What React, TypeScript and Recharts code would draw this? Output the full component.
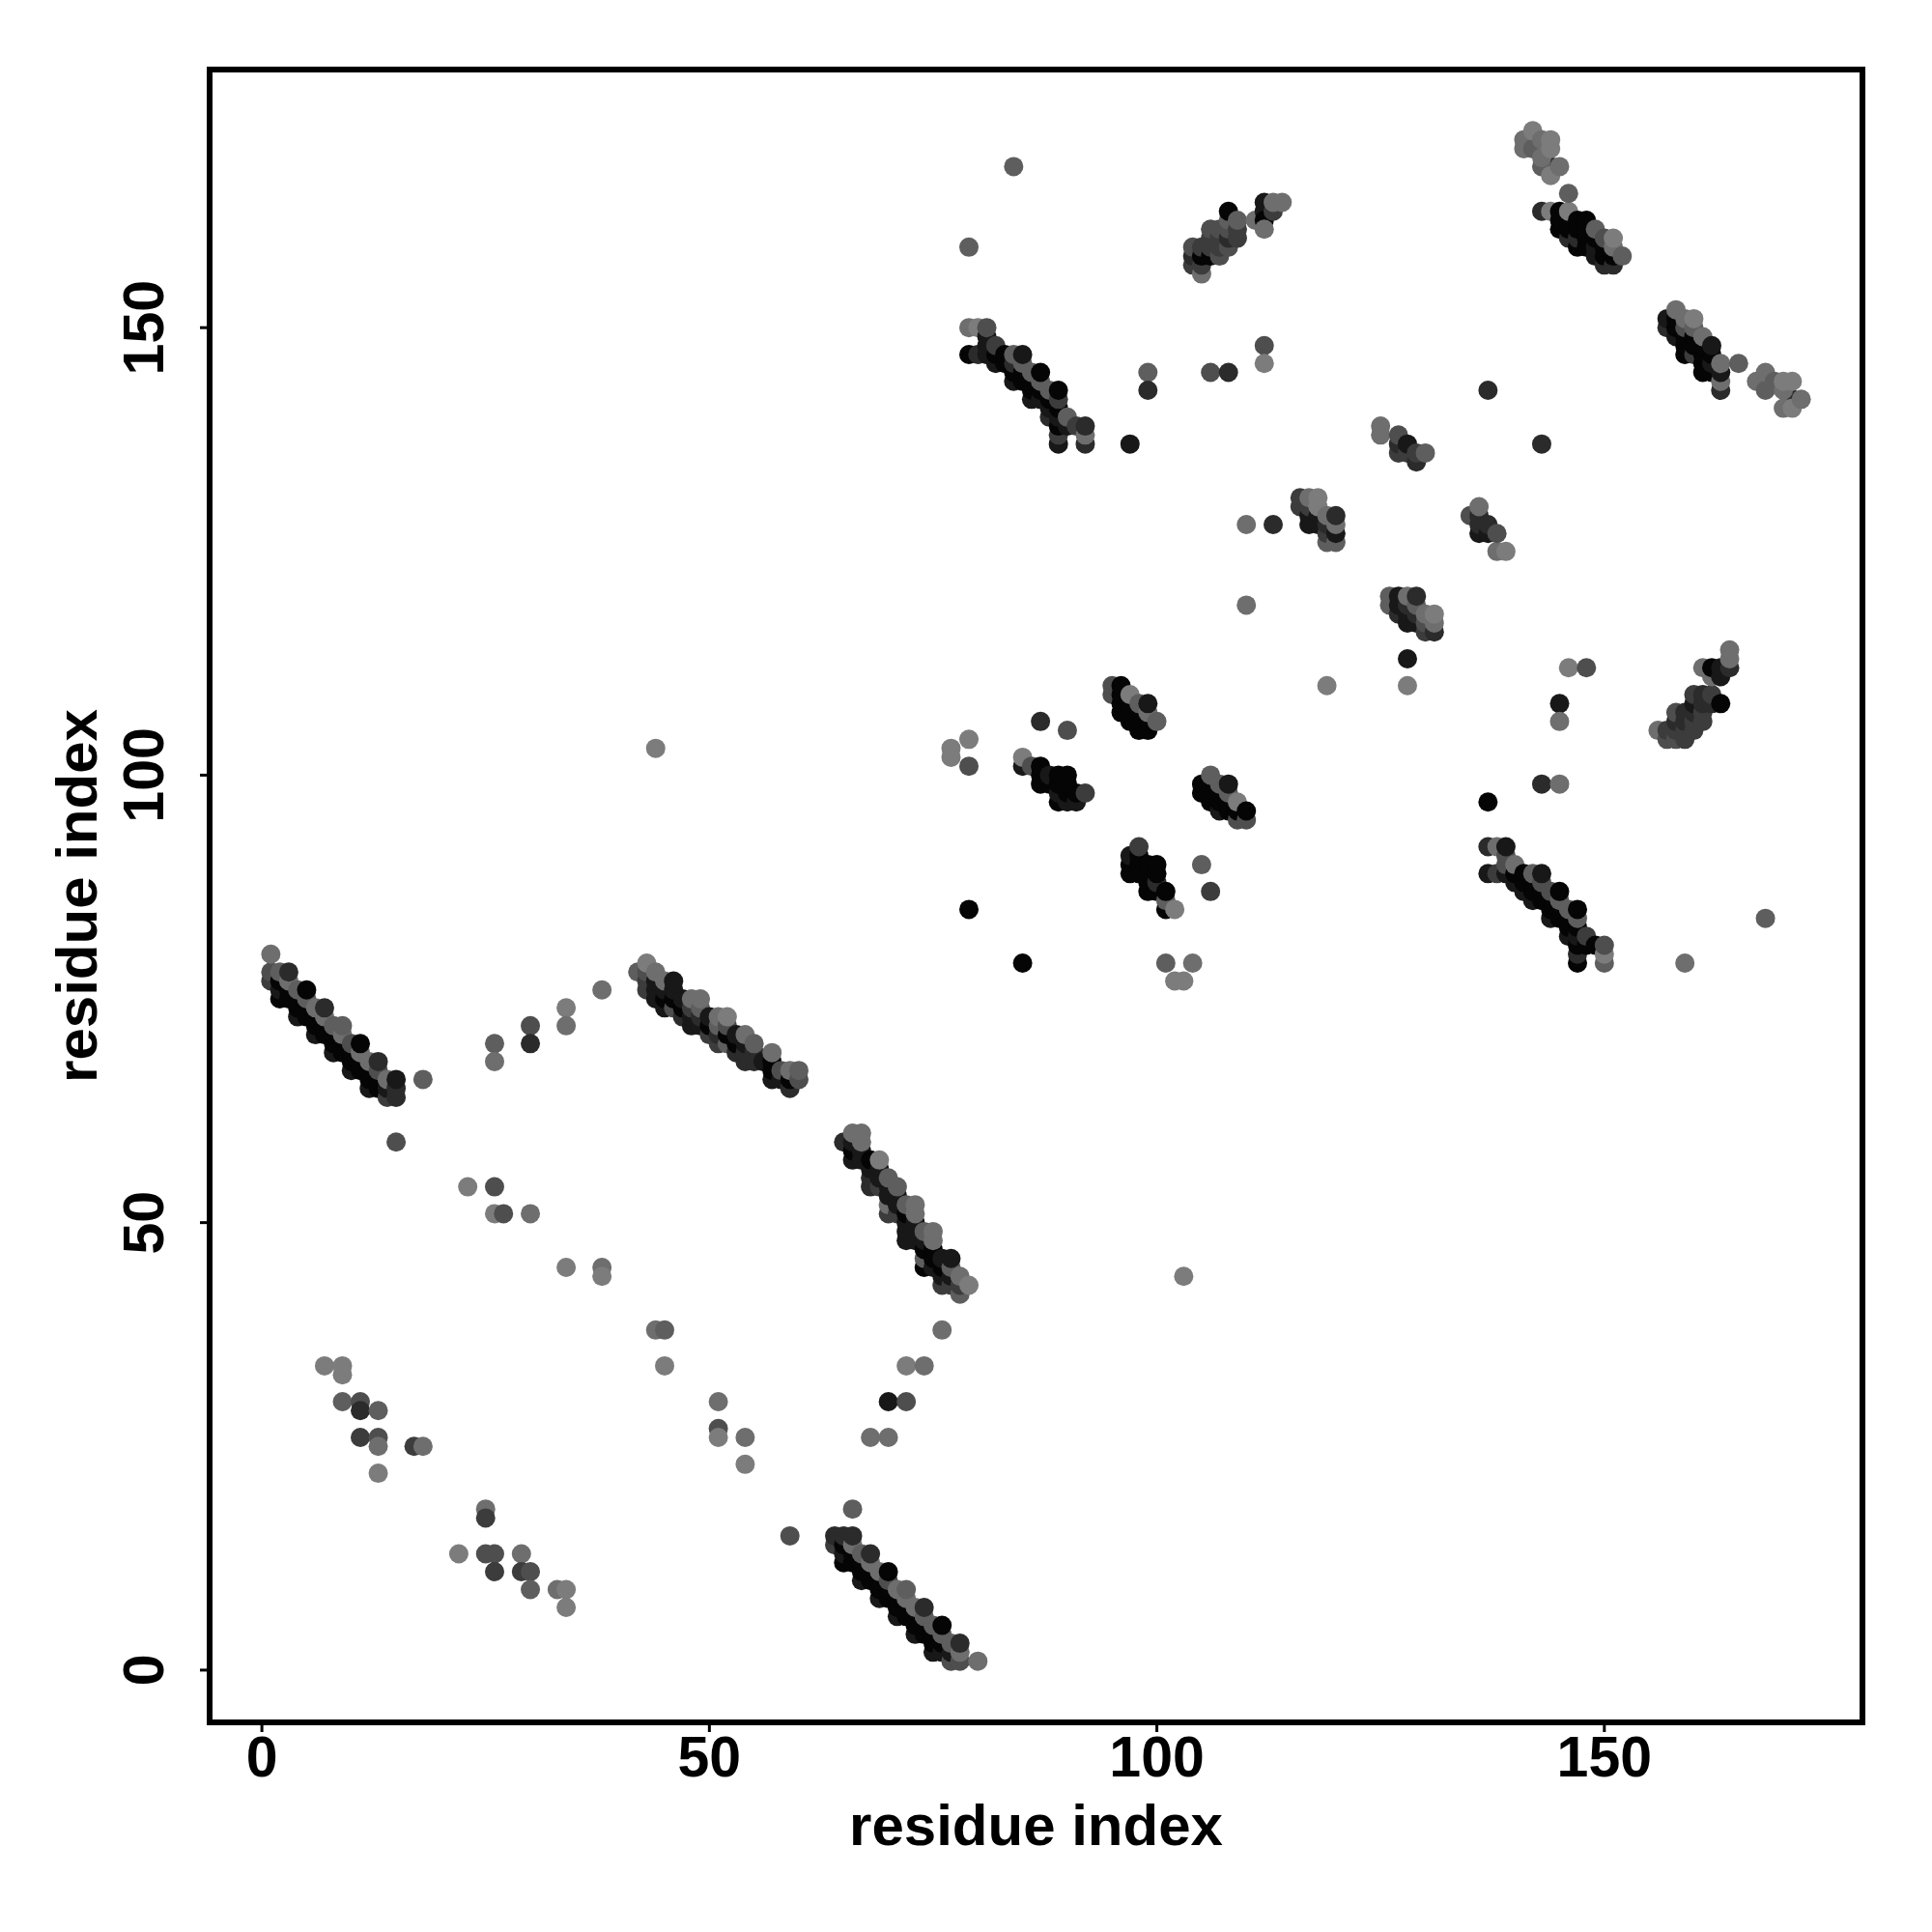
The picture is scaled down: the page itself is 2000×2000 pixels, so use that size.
import { ScatterChart, Scatter, XAxis, YAxis, ReferenceArea } from 'recharts';

// each contact is [residue i, residue j, strength 1..9], listed in paint order
type Contact = [number, number, number];

const axisTicks = [0, 50, 100, 150];
const axisDomain: [number, number] = [-5.84, 178.84];
const strengthGreys = ['#909090', '#858585', '#7c7c7c', '#6e6e6e', '#5e5e5e', '#4e4e4e', '#3c3c3c', '#2b2b2b', '#181818', '#050505'];

const helixA: Contact[] = [
  [2,75,9],[4,73,8],[6,71,8],[8,69,8],[10,67,8],[12,65,8],
  [1,77,6],[2,76,8],[3,75,9],[4,74,9],[5,73,9],[6,72,9],[7,71,9],[8,70,9],[9,69,9],[10,68,9],[11,67,9],[12,66,9],[13,65,9],[14,64,6],
  [1,78,5],[2,77,9],[3,76,9],[4,75,9],[5,74,9],[6,73,9],[7,72,9],[8,71,9],[9,70,9],[10,69,9],[11,68,9],[12,67,9],[13,66,9],[14,65,8],[15,64,7],
  [2,78,4],[3,77,3],[4,76,4],[5,75,4],[6,74,3],[7,73,3],[8,72,4],[9,71,3],[10,70,5],[11,69,3],[12,68,3],[13,67,5],[14,66,3],[15,65,7],
  [3,78,7],[5,76,9],[7,74,7],[9,72,4],[11,70,9],[13,68,7],[15,66,8],
  [1,80,3],[18,66,4],[15,59,5],
];

const helixB: Contact[] = [
  [42,78,4],[43,76,6],[43,77,6],[43,78,5],[43,79,2],
  [44,75,8],[44,76,8],[44,77,8],[44,78,3],
  [45,74,8],[45,75,9],[45,76,8],[45,77,3],
  [46,74,5],[46,75,9],[46,76,8],[46,77,8],
  [47,73,7],[47,74,9],[47,75,8],
  [48,72,8],[48,73,8],[48,74,6],[48,75,3],
  [49,72,8],[49,73,7],[49,74,4],[49,75,3],
  [50,71,6],[50,72,9],[50,73,8],
  [51,70,6],[51,71,7],[51,72,4],[51,73,3],
  [52,70,4],[52,71,9],[52,72,5],[52,73,2],
  [53,69,7],[53,70,9],[53,71,8],
  [54,68,7],[54,69,7],[54,70,8],[54,71,3],
  [55,68,7],[55,69,7],[55,70,4],
  [56,68,8],
  [57,66,8],[57,67,9],[57,68,9],[57,69,3],
  [58,66,8],[58,67,5],
  [59,65,7],[59,66,9],[59,67,3],
  [60,66,5],[60,67,4],
];

const helixC: Contact[] = [
  [65,59,7],[66,57,8],[66,58,9],[66,59,8],[66,60,3],
  [67,57,8],[67,58,8],[67,59,3],[67,60,3],
  [68,54,7],[68,55,7],[68,56,8],[68,57,9],
  [69,54,6],[69,55,8],[69,56,8],[69,57,2],
  [70,51,6],[70,52,3],[70,53,8],[70,54,8],[70,55,4],
  [71,51,6],[71,52,8],[71,53,8],[71,54,4],
  [72,48,8],[72,49,8],[72,50,8],[72,51,9],[72,52,4],
  [73,48,8],[73,49,8],[73,50,8],[73,51,3],[73,52,3],
  [74,45,9],[74,46,4],[74,47,9],[74,48,8],[74,49,4],
  [75,45,8],[75,46,9],[75,47,9],[75,48,3],[75,49,3],
  [76,43,6],[76,44,8],[76,45,9],[76,46,8],
  [77,43,6],[77,44,8],[77,45,4],[77,46,8],
  [78,42,4],[78,43,6],[78,44,3],[79,43,2],
];

const helixD: Contact[] = [
  [65,12,9],[67,10,8],[69,8,8],[71,6,8],[73,4,8],[75,2,8],
  [64,14,6],[65,13,8],[66,12,9],[67,11,9],[68,10,9],[69,9,9],[70,8,9],[71,7,9],[72,6,9],[73,5,9],[74,4,9],[75,3,9],[76,2,8],[77,1,5],
  [64,15,7],[65,14,9],[66,13,9],[67,12,9],[68,11,9],[69,10,9],[70,9,9],[71,8,9],[72,7,9],[73,6,9],[74,5,9],[75,4,9],[76,3,9],[77,2,8],[78,1,5],
  [65,15,7],[66,14,3],[67,13,4],[68,12,3],[69,11,3],[70,10,5],[71,9,3],[72,8,3],[73,7,3],[74,6,4],[75,5,4],[76,4,4],[77,3,4],[78,2,3],
  [66,15,7],[68,13,7],[70,11,9],[72,9,4],[74,7,7],[76,5,9],[78,3,7],
  [80,1,3],[66,18,4],
];

const helixE: Contact[] = [
  [79,147,9],[79,150,3],[80,147,7],[80,150,2],
  [81,147,8],[81,148,8],[81,149,8],[81,150,5],
  [82,146,8],[82,147,9],[82,148,6],[83,146,9],[83,147,9],
  [84,144,8],[84,145,9],[84,146,7],[84,147,4],
  [85,144,9],[85,145,9],[85,146,4],[85,147,8],
  [86,142,8],[86,143,9],[86,144,9],[86,145,4],
  [87,142,8],[87,143,9],[87,144,4],[87,145,9],
  [88,140,7],[88,141,8],[88,142,9],[88,143,4],
  [89,137,8],[89,138,6],[89,139,9],[89,140,8],[89,141,9],[89,142,6],[89,143,9],
  [90,139,8],[90,140,4],[91,139,6],[92,137,7],[92,138,3],[92,139,7],
];

const strandsF: Contact[] = [
  [95,109,5],[95,110,5],[96,107,9],[96,108,9],[96,109,9],[96,110,9],
  [97,106,9],[97,107,9],[97,108,9],[97,109,2],
  [98,105,9],[98,106,9],[98,107,9],[98,108,4],
  [99,105,9],[99,106,9],[99,107,3],[99,108,8],[100,106,4],
  [85,101,8],[85,102,2],[86,101,5],
  [87,99,9],[87,100,9],[87,101,9],[88,99,9],[88,100,8],
  [89,97,9],[89,98,8],[89,99,9],[89,100,9],
  [90,97,8],[90,98,9],[90,99,9],[90,100,9],
  [91,97,8],[91,98,9],[92,98,6],
  [105,98,9],[105,99,9],[106,97,9],[106,98,9],[106,99,9],[106,100,4],
  [107,96,8],[107,97,9],[107,98,9],[107,99,4],
  [108,96,9],[108,97,9],[108,98,4],[108,99,8],
  [109,95,5],[109,96,9],[109,97,2],[110,95,5],[110,96,9],
  [97,89,9],[97,90,9],[97,91,8],
  [98,89,9],[98,90,9],[98,91,9],[98,92,6],
  [99,87,9],[99,88,9],[99,89,9],[99,90,9],
  [100,87,9],[100,88,7],[100,89,9],[100,90,9],
  [101,85,9],[101,86,4],[101,87,9],[102,85,2],
];

const strandsG: Contact[] = [
  [104,157,6],[104,158,7],[104,159,5],
  [105,156,3],[105,157,6],[105,158,9],[105,159,6],
  [106,158,9],[106,159,6],[106,160,6],[106,161,5],
  [107,158,5],[107,159,6],[107,160,6],[107,161,5],
  [108,159,5],[108,160,7],[108,161,5],[108,162,4],[108,163,9],
  [109,160,6],[109,161,6],[109,162,4],
  [111,162,3],[112,163,8],[112,164,8],[112,162,9],[112,161,3],
  [113,163,6],[113,164,3],[114,164,3],
];

const strandsH: Contact[] = [
  [142,171,7],[144,168,7],
  [141,170,3],[141,171,3],[142,170,4],[142,172,2],[143,168,4],[143,169,3],[143,171,3],
  [144,167,2],[144,170,2],[144,171,2],[145,168,3],
  [143,163,7],[144,163,2],
  [145,161,9],[145,162,9],[145,163,9],
  [146,160,7],[146,161,9],[146,162,9],[146,163,2],[146,165,4],
  [147,159,9],[147,160,7],[147,161,9],[147,162,9],
  [148,159,9],[148,160,9],[148,161,9],[148,162,9],
  [149,158,8],[149,159,8],[149,160,9],[149,161,4],
  [150,157,7],[150,158,9],[150,159,9],[150,160,5],
  [151,157,7],[151,158,9],[151,159,3],[151,160,2],[152,158,4],
];

const strandsI: Contact[] = [
  [157,150,7],[157,151,8],[158,149,8],[158,150,9],[158,151,9],[158,152,3],
  [159,147,9],[159,148,9],[159,149,9],[159,150,5],[159,151,3],
  [160,147,6],[160,148,9],[160,149,9],[160,150,4],[160,151,2],
  [161,145,9],[161,146,9],[161,147,9],[161,148,9],[161,149,3],
  [162,145,9],[162,146,8],[162,147,9],[162,148,8],
  [163,143,7],[163,144,3],[163,145,8],[163,146,3],[165,146,4],
  [168,144,6],[171,142,7],
  [167,144,3],[168,143,4],[168,145,3],[169,144,4],[170,141,3],[170,143,3],[170,144,2],
  [171,141,2],[171,144,2],[172,142,3],
];

const strandsJ: Contact[] = [
  [137,89,8],[137,92,7],[138,89,6],[138,92,3],
  [139,89,8],[139,90,5],[139,91,5],[139,92,8],
  [140,88,8],[140,89,9],[140,90,3],[141,87,8],[141,88,9],[141,89,9],
  [142,86,8],[142,87,9],[142,88,9],[142,89,4],
  [143,86,9],[143,87,9],[143,88,5],[143,89,8],
  [144,84,8],[144,85,9],[144,86,9],[144,87,5],
  [145,84,9],[145,85,9],[145,86,4],[145,87,9],
  [146,82,8],[146,83,9],[146,84,9],[146,85,4],
  [147,79,9],[147,80,7],[147,81,9],[147,82,8],[147,83,9],[147,84,4],[147,85,9],
  [148,81,9],[148,82,6],[149,81,9],
  [150,79,4],[150,80,2],[150,81,5],
];

const strandsK: Contact[] = [
  [116,130,6],[116,131,6],[117,128,8],[117,129,8],[117,130,6],[117,131,3],
  [118,128,8],[118,129,8],[118,130,2],[118,131,2],
  [119,126,4],[119,127,6],[119,128,7],[119,129,3],
  [120,126,4],[120,127,8],[120,128,3],[120,129,7],
  [126,119,4],[126,120,4],[127,118,7],[127,119,8],[127,120,8],
  [128,117,8],[128,118,8],[128,119,7],[128,120,3],
  [129,117,8],[129,118,7],[129,119,4],[129,120,7],
  [130,116,6],[130,117,5],[130,118,3],[131,116,7],[131,117,3],[131,118,2],
  [125,138,3],[125,139,3],[127,136,6],[127,137,7],[127,138,5],
  [128,136,6],[128,137,8],[129,135,7],[129,136,6],[130,136,4],
  [135,129,5],[136,127,8],[136,128,7],[136,129,7],[136,130,3],
  [137,127,8],[137,128,7],[138,125,3],[138,127,5],[139,125,2],
  [156,105,3],[157,104,5],[157,105,6],[158,104,5],[158,105,6],[158,106,7],[158,107,5],
  [159,104,6],[159,105,6],[159,106,7],[159,107,7],
  [160,105,6],[160,106,6],[160,107,7],[160,108,8],[160,109,6],
  [161,106,6],[161,107,6],[161,108,7],[161,109,7],[161,112,3],
  [162,108,7],[162,109,6],[162,111,3],[162,112,9],
  [163,108,9],[163,111,8],[163,112,8],[164,112,7],[164,113,3],[164,114,3],
];

const scatteredUpper: Contact[] = [
  [84,168,4],[79,159,4],[110,128,3],[113,128,7],[110,119,3],[119,110,2],[128,113,8],[128,110,2],
  [146,112,2],[148,112,5],[145,108,8],[145,106,3],[143,99,7],[145,99,3],[137,97,9],[137,143,7],[143,137,7],
  [99,145,4],[99,143,7],[97,137,8],[106,145,5],[108,145,7],[112,148,5],[112,146,2],
  [77,103,2],[77,102,2],[79,104,2],[79,101,5],[87,106,7],[90,105,5],[44,103,2],
  [79,85,9],[85,79,9],[101,79,4],[102,77,2],[103,77,2],[104,79,3],[105,90,4],[106,87,6],
  [159,79,3],[168,84,4],[103,44,2],
];

const scatteredLower: Contact[] = [
  [26,70,4],[26,68,3],[30,72,5],[30,70,7],[34,74,2],[34,72,3],[38,76,3],
  [23,54,2],[26,54,5],[26,51,2],[27,51,5],[30,51,3],[34,45,2],[38,45,3],[38,44,2],
  [44,38,3],[45,38,4],[45,34,2],[51,30,3],[51,27,5],[51,26,2],[54,26,3],[54,23,2],[59,15,5],
  [76,38,3],[72,34,2],[74,34,3],[70,30,8],[72,30,5],[68,26,3],[70,26,3],
  [7,34,2],[9,34,2],[9,33,2],[9,30,4],[11,30,5],[11,29,7],[13,29,4],[11,26,6],[13,26,5],[13,25,3],[13,22,2],[17,25,6],[18,25,3],
  [22,13,2],[25,18,3],[25,17,6],[25,13,5],[26,13,5],[26,11,6],[29,13,3],[29,11,6],[30,11,5],[30,9,4],[33,9,3],[34,9,2],[34,7,2],
];

const contacts = [
  ...helixA, ...helixB, ...helixC, ...helixD, ...helixE, ...strandsF, ...strandsG,
  ...strandsH, ...strandsI, ...strandsJ, ...strandsK, ...scatteredUpper, ...scatteredLower,
].map(([x, y, s]) => ({ x, y, fill: strengthGreys[s] }));

const FONT = '"Liberation Sans", Arial, sans-serif';

function ContactDot(props: any) {
  return <circle cx={props.cx} cy={props.cy} r={10} fill={props.payload.fill} />;
}

function RotatedTick({ x, y, payload }: any) {
  return (
    <text
      x={x}
      y={y}
      transform={`rotate(-90 ${x} ${y})`}
      textAnchor="middle"
      fontFamily={FONT}
      fontWeight="bold"
      fontSize={59}
      fill="#000"
      dy={-36}
    >
      {payload.value}
    </text>
  );
}

function YTitle({ viewBox }: any) {
  const cy = viewBox.y + viewBox.height / 2;
  return (
    <text
      x={100}
      y={cy}
      transform={`rotate(-90 100 ${cy})`}
      textAnchor="middle"
      fontFamily={FONT}
      fontWeight="bold"
      fontSize={60}
      fill="#000"
    >
      residue index
    </text>
  );
}

export default function App() {
  return (
    <div style={{ position: 'absolute', left: 0, top: 0, width: 2000, height: 2000, background: '#fff' }}>
      <ScatterChart width={2000} height={2000} margin={{ top: 72, right: 72, bottom: 0, left: 0 }}>
        <XAxis
          type="number"
          dataKey="x"
          domain={axisDomain}
          ticks={axisTicks}
          allowDataOverflow
          height={217}
          axisLine={false}
          tickSize={10}
          tickLine={{ stroke: '#000', strokeWidth: 3 }}
          tickMargin={4}
          tick={{ fill: '#000', fontFamily: FONT, fontWeight: 'bold', fontSize: 59 }}
          label={{ value: 'residue index', position: 'insideBottom', offset: 90, fill: '#000', fontFamily: FONT, fontWeight: 'bold', fontSize: 60 }}
        />
        <YAxis
          type="number"
          dataKey="y"
          domain={axisDomain}
          ticks={axisTicks}
          allowDataOverflow
          width={217}
          axisLine={false}
          tickSize={10}
          tickLine={{ stroke: '#000', strokeWidth: 3 }}
          tick={<RotatedTick />}
          label={<YTitle />}
        />
        <Scatter data={contacts} shape={ContactDot} isAnimationActive={false} />
        <ReferenceArea
          x1={axisDomain[0]}
          x2={axisDomain[1]}
          y1={axisDomain[0]}
          y2={axisDomain[1]}
          fill="none"
          stroke="#000"
          strokeWidth={6}
          ifOverflow="visible"
        />
      </ScatterChart>
    </div>
  );
}
